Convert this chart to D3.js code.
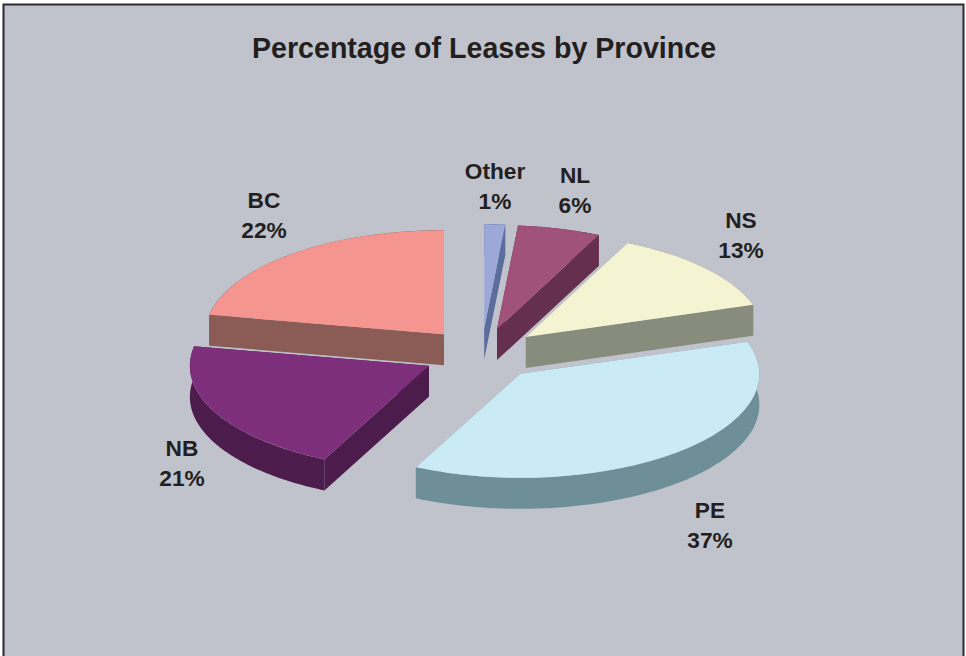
<!DOCTYPE html>
<html>
<head>
<meta charset="utf-8">
<script src="https://cdn.jsdelivr.net/npm/d3@7"></script>
<style>
  html, body { margin: 0; padding: 0; background: #fff; overflow: hidden; }
  text { font-family: "Liberation Sans", Arial, sans-serif; font-weight: bold; fill: #231f20; }
</style>
</head>
<body>
<script>
// values, the labels show them rounded
var provinces = ["Other", "NL", "NS", "PE", "NB", "BC"];
var shares = [1.4, 5.6, 13, 37.2, 20.8, 22];
var topColors = ["#9ca8d8", "#a0527a", "#f4f3d2", "#caeaf5", "#7e2f7b", "#f49590"];
var sideColors = ["#5a6d9c", "#64304e", "#888c7c", "#6e8f98", "#4c1c4c", "#8b5c56"];

// layout
var width = 966, height = 656;
var cx = 481.6, cy = 354.2;
var rx = 239, ry = 104, depth = 31;
var explodeX = 59, explodeY = 26;
var labelPos = {
  Other: [495, 179], NL: [575, 183], NS: [741, 228],
  PE: [710, 518], NB: [182, 456], BC: [264, 208]
};

var svg = d3.select("body").append("svg")
    .attr("width", width)
    .attr("height", height);

// page background and the chart frame, the frame runs off the bottom
svg.append("rect")
    .attr("x", 3.5).attr("y", 4.5)
    .attr("width", 960).attr("height", height + 10)
    .attr("fill", "#c0c3cb")
    .attr("stroke", "#2b2b2d")
    .attr("stroke-width", 2);

svg.append("text")
    .attr("x", 484)
    .attr("y", 58)
    .attr("text-anchor", "middle")
    .style("font-size", "28.6px")
    .text("Percentage of Leases by Province");

var pie = d3.pie().sort(null).value(function(d) { return d; });
var arcs = pie(shares);
arcs.forEach(function(d, i) {
    d.name = provinces[i];
    d.top = topColors[i];
    d.side = sideColors[i];
    var mid = (d.startAngle + d.endAngle) / 2;
    d.ox = cx + explodeX * Math.sin(mid);
    d.oy = cy - explodeY * Math.cos(mid);
});

// back slices first, so the front ones sit over them
var order = ["Other", "NL", "BC", "NS", "NB", "PE"];
arcs.sort(function(a, b) { return order.indexOf(a.name) - order.indexOf(b.name); });

var topArc = d3.arc().innerRadius(0).outerRadius(rx);

// extruded wall: one strip of points pushed down by depth
var wall = d3.area()
    .x(function(p) { return p[0]; })
    .y0(function(p) { return p[1]; })
    .y1(function(p) { return p[1] + depth; });

function rimPoint(d, a) {
    return [d.ox + rx * Math.sin(a), d.oy - ry * Math.cos(a)];
}

var slice = svg.selectAll("g.slice")
    .data(arcs)
    .enter().append("g")
    .attr("class", "slice");

// rim
slice.append("path")
    .attr("fill", function(d) { return d.side; })
    .attr("d", function(d) {
        var n = 80;
        var pts = d3.range(n + 1).map(function(k) {
            return rimPoint(d, d.startAngle + (d.endAngle - d.startAngle) * k / n);
        });
        return wall(pts);
    });

// the two cut faces
slice.append("path")
    .attr("fill", function(d) { return d.side; })
    .attr("d", function(d) { return wall([rimPoint(d, d.endAngle), [d.ox, d.oy]]); });
slice.append("path")
    .attr("fill", function(d) { return d.side; })
    .attr("d", function(d) { return wall([[d.ox, d.oy], rimPoint(d, d.startAngle)]); });

// top face
slice.append("path")
    .attr("fill", function(d) { return d.top; })
    .attr("transform", function(d) {
        return "translate(" + d.ox + "," + d.oy + ") scale(1," + (ry / rx) + ")";
    })
    .attr("d", topArc);

// labels
arcs.forEach(function(d) {
    var pos = labelPos[d.name];
    var label = svg.append("text")
        .attr("text-anchor", "middle")
        .style("font-size", "22.7px");
    label.append("tspan").attr("x", pos[0]).attr("y", pos[1]).text(d.name);
    label.append("tspan").attr("x", pos[0]).attr("y", pos[1] + 30).text(Math.round(d.data) + "%");
});
</script>
</body>
</html>
